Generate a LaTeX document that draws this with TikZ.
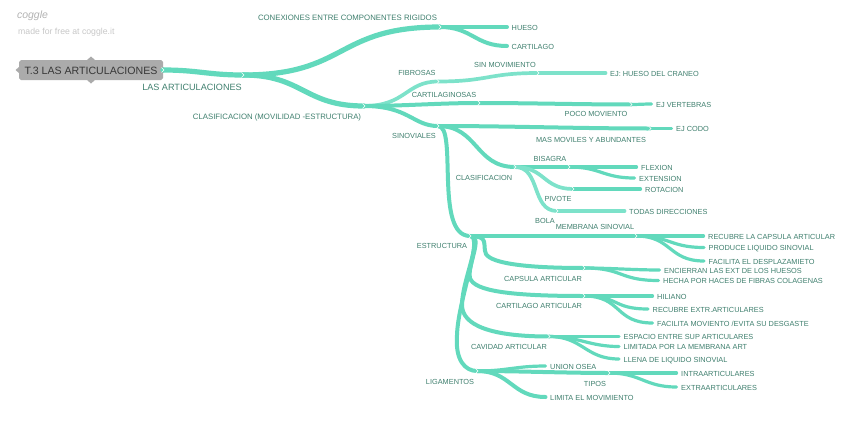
\documentclass[tikz,border=0pt]{standalone}
\usepackage{fontspec}
\setmainfont{Liberation Sans}
\definecolor{branch}{HTML}{62D9BC}
\definecolor{branchl}{HTML}{7DE2CA}
\definecolor{labeltxt}{HTML}{3F7F6E}
\definecolor{rootfill}{HTML}{ABABAB}
\tikzset{
  brA/.style={draw=branch,line width=5.2pt,line cap=round},
  brB/.style={draw=branch,line width=4pt,line cap=round},
  brC/.style={draw=branchl,line width=3.7pt,line cap=round},
  brD/.style={draw=branch,line width=3.2pt,line cap=round},
  leaf/.style={anchor=west,inner xsep=4.5pt,inner ysep=0pt,text=labeltxt,text height=6.3pt,text depth=0pt,font=\fontsize{7.35}{8}\selectfont},
  lab/.style={inner sep=0pt,text=labeltxt,text height=6.3pt,text depth=0pt,font=\fontsize{7.35}{8}\selectfont},
  labbig/.style={lab,font=\fontsize{7.8}{8}\selectfont},
  chevmark/.style={draw=white,line width=.6pt,fill=none},
}
\newcommand{\conn}[4][brB]{\draw[#1] (#2) .. controls +(#4,0) and +(-#4,0) .. (#3);}
\newcommand{\chev}[1]{\draw[chevmark] ([shift={(-1.5,-2.5)}]#1) -- ([shift={(1,0)}]#1) -- ([shift={(-1.5,2.5)}]#1);}
\begin{document}
\begin{tikzpicture}[x=1pt,y=-1pt]
\useasboundingbox (0,0) rectangle (848,423);
% junction coordinates
\coordinate (j1) at (243,75);
\coordinate (j2) at (364,106);
\coordinate (c1) at (440,27);
\coordinate (fib) at (438,81.5);
\coordinate (sinm) at (538,73);
\coordinate (car) at (479,103);
\coordinate (poco) at (631,104.5);
\coordinate (sino) at (438,126);
\coordinate (mas) at (650,128.5);
\coordinate (clas) at (515,167);
\coordinate (bis) at (569,167);
\coordinate (piv) at (573,189);
\coordinate (bol) at (557,211);
\coordinate (estr) at (470,236);
\coordinate (mem) at (636,236);
\coordinate (caps) at (584,268);
\coordinate (cart) at (584,296);
\coordinate (cav) at (549,336.5);
\coordinate (lig) at (477,371);
\coordinate (tip) at (609,373);
% root
\fill[rootfill] (91,56.5) -- (95,60) -- (161,60) -- (163,62) -- (163,67) -- (166.5,70) -- (163,73) -- (163,78) -- (161,80) -- (95,80) -- (91,83.5) -- (87,80) -- (21,80) -- (19,78) -- (19,73) -- (15.5,70) -- (19,67) -- (19,62) -- (21,60) -- (87,60) -- cycle;
\node[inner sep=0pt,text=black!78,text height=8.6pt,text depth=0pt,font=\fontsize{10.6}{12}\selectfont] (root) at (91,70) {T.3 LAS ARTICULACIONES};
\coordinate (rootr) at (163,70);
% leaves
\node[leaf] (hueso) at (507,27) {HUESO};
\node[leaf] (cartl) at (507,46) {CARTILAGO};
\node[leaf] (craneo) at (605.5,73) {EJ: HUESO DEL CRANEO};
\node[leaf] (vert) at (651.5,104) {EJ VERTEBRAS};
\node[leaf] (codo) at (671.5,128.5) {EJ CODO};
\node[leaf] (flex) at (636.5,167) {FLEXION};
\node[leaf] (ext) at (634.5,178) {EXTENSION};
\node[leaf] (rot) at (640.5,189) {ROTACION};
\node[leaf] (todas) at (624.5,211) {TODAS DIRECCIONES};
\node[leaf] (recu) at (703.5,236) {RECUBRE LA CAPSULA ARTICULAR};
\node[leaf] (prod) at (704,247.5) {PRODUCE LIQUIDO SINOVIAL};
\node[leaf] (faci) at (704,261) {FACILITA EL DESPLAZAMIETO};
\node[leaf] (enc) at (659.5,270) {ENCIERRAN LAS EXT DE LOS HUESOS};
\node[leaf] (hecha) at (658.5,280.5) {HECHA POR HACES DE FIBRAS COLAGENAS};
\node[leaf] (hil) at (652.5,296) {HILIANO};
\node[leaf] (rext) at (648,309) {RECUBRE EXTR.ARTICULARES};
\node[leaf] (fmov) at (652.5,323) {FACILITA MOVIENTO /EVITA SU DESGASTE};
\node[leaf] (esp) at (619,336.5) {ESPACIO ENTRE SUP ARTICULARES};
\node[leaf] (lim) at (619,346.5) {LIMITADA POR LA MEMBRANA ART};
\node[leaf] (lle) at (619,359) {LLENA DE LIQUIDO SINOVIAL};
\node[leaf] (uni) at (545.5,366) {UNION OSEA};
\node[leaf] (ltm) at (545.5,397) {LIMITA EL MOVIMIENTO};
\node[leaf] (int) at (676.5,373) {INTRAARTICULARES};
\node[leaf] (xtr) at (676.5,387) {EXTRAARTICULARES};
% branch labels
\node[lab,text height=7pt,font=\fontsize{9.1}{10}\selectfont] (l1) at (192,87) {LAS ARTICULACIONES};
\node[labbig] (l2) at (347.5,17.5) {CONEXIONES ENTRE COMPONENTES RIGIDOS};
\node[labbig] (l3) at (277,116) {CLASIFICACION (MOVILIDAD -ESTRUCTURA)};
\node[lab] (l4) at (417,72.5) {FIBROSAS};
\node[lab] (l5) at (505,64) {SIN MOVIMIENTO};
\node[lab] (l6) at (444,94) {CARTILAGINOSAS};
\node[lab] (l7) at (596,113.5) {POCO MOVIENTO};
\node[lab] (l8) at (414,135) {SINOVIALES};
\node[lab] (l9) at (591,139) {MAS MOVILES Y ABUNDANTES};
\node[lab] (l10) at (550,158) {BISAGRA};
\node[lab] (l11) at (484,177) {CLASIFICACION};
\node[lab] (l12) at (558,198.5) {PIVOTE};
\node[lab] (l13) at (545,220) {BOLA};
\node[lab] (l14) at (595,226) {MEMBRANA SINOVIAL};
\node[lab] (l15) at (442,245) {ESTRUCTURA};
\node[lab] (l16) at (543,278) {CAPSULA ARTICULAR};
\node[lab] (l17) at (539,305) {CARTILAGO ARTICULAR};
\node[lab] (l18) at (509,346) {CAVIDAD ARTICULAR};
\node[lab] (l19) at (595,383) {TIPOS};
\node[lab] (l20) at (450,381) {LIGAMENTOS};
% connectors
\conn[brA]{rootr}{j1}{35}
\conn[brA]{j1}{c1}{105}
\conn[brA]{j1}{j2}{60}
\conn[brB]{c1}{hueso.west}{20}
\conn[brB]{c1}{cartl.west}{32}
\draw[brC] (j2) .. controls +(42,0) and +(-32,0) .. (fib);
\conn[brC]{fib}{sinm}{50}
\conn[brC]{sinm}{craneo.west}{20}
\conn[brB]{j2}{car}{40}
\conn[brB]{car}{poco}{50}
\conn[brD]{poco}{vert.west}{8}
\draw[brB] (j2) .. controls +(45,0) and +(-25,0) .. (sino);
\conn[brB]{sino}{mas}{70}
\conn[brD]{mas}{codo.west}{8}
\conn[brB]{sino}{clas}{40}
\conn[brB]{clas}{bis}{15}
\conn[brD]{bis}{flex.west}{20}
\conn[brD]{bis}{ext.west}{32}
\conn[brC]{clas}{piv}{30}
\conn[brD]{piv}{rot.west}{20}
\conn[brC]{clas}{bol}{26}
\conn[brC]{bol}{todas.west}{20}
\draw[brB] (sino) .. controls +(20,0) and +(-36,0) .. (estr);
\conn[brB]{estr}{mem}{50}
\conn[brD]{mem}{recu.west}{20}
\conn[brD]{mem}{prod.west}{34}
\conn[brD]{mem}{faci.west}{36}
\draw[brB] (estr) .. controls (490,236) and (482,245) .. (486,254) .. controls (492,264) and (530,268) .. (caps);
\conn[brD]{caps}{enc.west}{25}
\conn[brD]{caps}{hecha.west}{40}
\draw[brB] (estr) .. controls (484,236) and (467,265) .. (470,278) .. controls (474,291) and (510,296) .. (cart);
\conn[brD]{cart}{hil.west}{20}
\conn[brD]{cart}{rext.west}{36}
\conn[brD]{cart}{fmov.west}{38}
\draw[brB] (estr) .. controls (484,236) and (462,280) .. (462,305) .. controls (462,325) and (490,336.5) .. (cav);
\conn[brD]{cav}{esp.west}{20}
\conn[brD]{cav}{lim.west}{30}
\conn[brD]{cav}{lle.west}{34}
\draw[brB] (estr) .. controls (484,236) and (458,300) .. (457,335) .. controls (455,360) and (465,371) .. (lig);
\conn[brD]{lig}{uni.west}{30}
\conn[brB]{lig}{tip}{40}
\conn[brD]{tip}{int.west}{20}
\conn[brD]{tip}{xtr.west}{32}
\conn[brB]{lig}{ltm.west}{34}
% junction marks
\chev{rootr}\chev{j1}\chev{j2}\chev{c1}\chev{fib}\chev{sinm}\chev{car}\chev{poco}\chev{sino}\chev{mas}\chev{clas}\chev{bis}\chev{piv}\chev{bol}\chev{estr}\chev{mem}\chev{caps}\chev{cart}\chev{cav}\chev{lig}\chev{tip}
% watermark
\node[inner sep=0pt,text=black!30,font=\fontsize{10.5}{12}\selectfont\itshape] (logo) at (32.5,16) {coggle};
\node[anchor=west,inner sep=0pt,text=black!22,font=\fontsize{8.7}{10}\selectfont] (made) at (18,32.5) {made for free at coggle.it};
\end{tikzpicture}
\end{document}
